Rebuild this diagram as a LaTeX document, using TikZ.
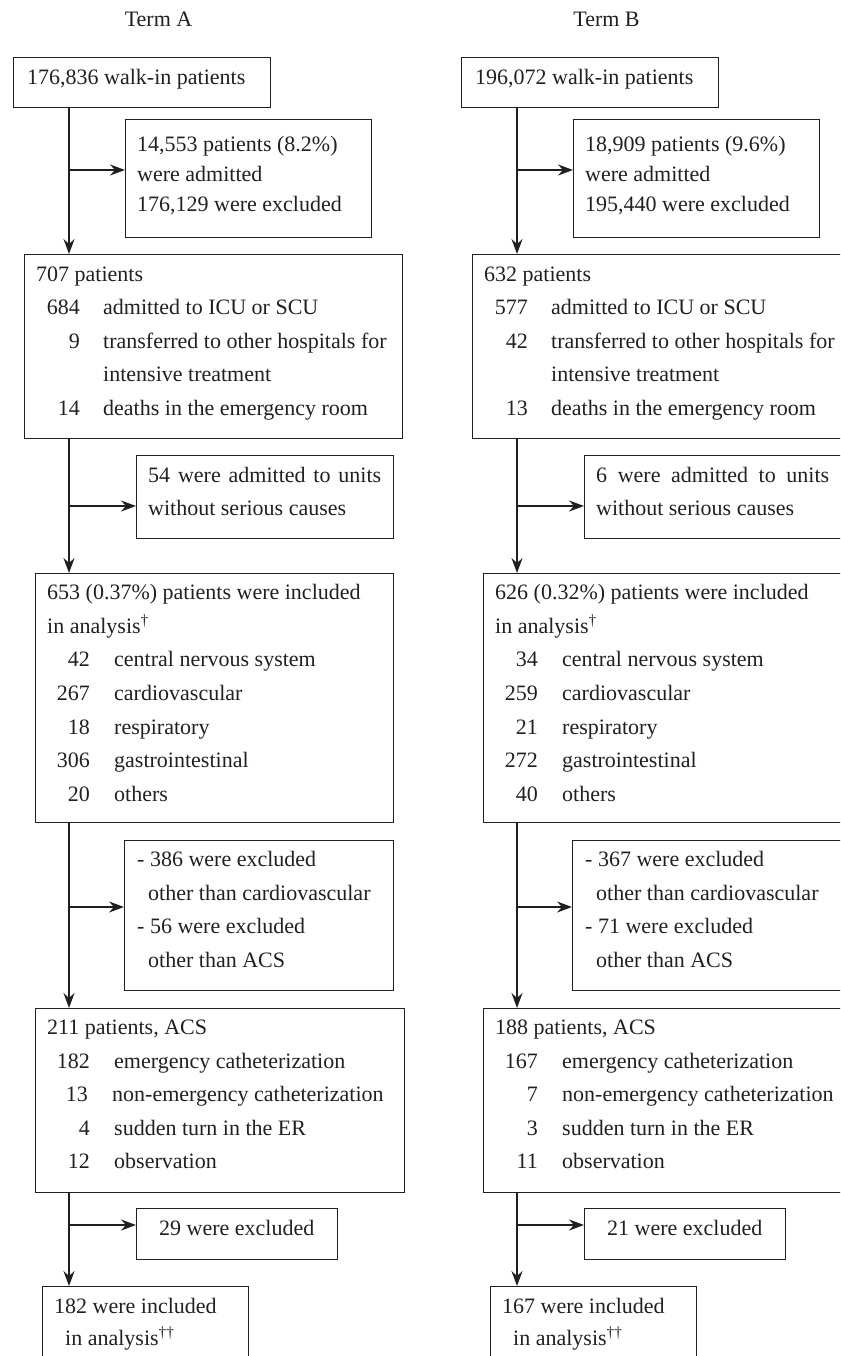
\documentclass[tikz,border=0pt]{standalone}
\usepackage{fontspec}
\setmainfont{Liberation Serif}
\usetikzlibrary{arrows.meta}
\definecolor{ink}{HTML}{231F20}
\begin{document}
\begin{tikzpicture}[x=1pt,y=-1pt,
  box/.style={draw=ink, line width=1.4pt, rectangle, inner sep=0pt, anchor=north west},
  txt/.style={inner sep=0pt, text=ink, font=\fontsize{22}{26}\selectfont},
  lt/.style={txt, anchor=base west},
  rt/.style={txt, anchor=base east},
  ct/.style={txt, anchor=base},
  arr/.style={draw=ink, line width=1.5pt, -{Stealth[length=15pt,width=11pt,inset=5pt]}}]
\useasboundingbox (0,0) rectangle (840,1356);
\clip (0,0) rectangle (840,1356);

% ---------------- Term A ----------------
\node[ct] (hA) at (158.5,27) {Term A};
\node[box, minimum width=257pt, minimum height=50pt]  (A1) at (13,57) {};
\node[box, minimum width=246pt, minimum height=118pt] (A2) at (125,119) {};
\node[box, minimum width=378pt, minimum height=184pt] (A3) at (24,254) {};
\node[box, minimum width=257pt, minimum height=83pt]  (A4) at (136,455) {};
\node[box, minimum width=358pt, minimum height=249pt] (A5) at (35,573) {};
\node[box, minimum width=269pt, minimum height=150pt] (A6) at (124,840) {};
\node[box, minimum width=369pt, minimum height=184pt] (A7) at (35,1008) {};
\node[box, minimum width=201pt, minimum height=51pt]  (A8) at (136,1208) {};
\node[box, minimum width=206pt, minimum height=120pt] (A9) at (42,1286) {};

\node[lt] (A1a) at (27,85) {176,836 walk-in patients};
\node[lt] (A2a) at (137,152) {14,553 patients (8.2\%)};
\node[lt] (A2b) at (137,182) {were admitted};
\node[lt] (A2c) at (137,212) {176,129 were excluded};
\node[lt] (A3a) at (36,281) {707 patients};
\node[rt] (A3n1) at (80,314) {684};
\node[lt] (A3t1) at (103,314) {admitted to ICU or SCU};
\node[rt] (A3n2) at (80,348) {9};
\node[lt] (A3t2) at (103,348) {transferred to other hospitals for};
\node[lt] (A3t3) at (103,381) {intensive treatment};
\node[rt] (A3n4) at (80,415) {14};
\node[lt] (A3t4) at (103,415) {deaths in the emergency room};
\node[lt] (A4a) at (148,482) {\makebox[233pt][s]{54 were admitted to units}};
\node[lt] (A4b) at (148,515) {without serious causes};
\node[lt] (A5a) at (47,599) {653 (0.37\%) patients were included};
\node[lt] (A5b) at (47,633) {in analysis\textsuperscript{\textdagger}};
\node[rt] (A5n1) at (90,666) {42};
\node[lt] (A5t1) at (114,666) {central nervous system};
\node[rt] (A5n2) at (90,700) {267};
\node[lt] (A5t2) at (114,700) {cardiovascular};
\node[rt] (A5n3) at (90,734) {18};
\node[lt] (A5t3) at (114,734) {respiratory};
\node[rt] (A5n4) at (90,767) {306};
\node[lt] (A5t4) at (114,767) {gastrointestinal};
\node[rt] (A5n5) at (90,801) {20};
\node[lt] (A5t5) at (114,801) {others};
\node[lt] (A6a) at (137,866) {- 386 were excluded};
\node[lt] (A6b) at (148,900) {other than cardiovascular};
\node[lt] (A6c) at (137,933) {- 56 were excluded};
\node[lt] (A6d) at (148,967) {other than ACS};
\node[lt] (A7a) at (47,1034) {211 patients, ACS};
\node[rt] (A7n1) at (90,1068) {182};
\node[lt] (A7t1) at (114,1068) {emergency catheterization};
\node[rt] (A7n2) at (88,1101) {13};
\node[lt] (A7t2) at (112,1101) {non-emergency catheterization};
\node[rt] (A7n3) at (90,1135) {4};
\node[lt] (A7t3) at (114,1135) {sudden turn in the ER};
\node[rt] (A7n4) at (90,1168) {12};
\node[lt] (A7t4) at (114,1168) {observation};
\node[lt] (A8a) at (159,1235) {29 were excluded};
\node[lt] (A9a) at (54,1313) {182 were included};
\node[lt] (A9b) at (65,1345) {in analysis\textsuperscript{\textdagger\textdagger}};

\coordinate (cA) at (69,0);
\coordinate (jA1) at (69,170);
\coordinate (jA2) at (69,506);
\coordinate (jA3) at (69,907);
\coordinate (jA4) at (69,1225);
\draw[arr] (A1.south -| cA) -- (A3.north -| cA);
\draw[arr] (A3.south -| cA) -- (A5.north -| cA);
\draw[arr] (A5.south -| cA) -- (A7.north -| cA);
\draw[arr] (A7.south -| cA) -- (A9.north -| cA);
\draw[arr] (jA1) -- (jA1 -| A2.west);
\draw[arr] (jA2) -- (jA2 -| A4.west);
\draw[arr] (jA3) -- (jA3 -| A6.west);
\draw[arr] (jA4) -- (jA4 -| A8.west);

% ---------------- Term B ----------------
\begin{scope}[xshift=448pt]
\node[ct] (hB) at (158.5,27) {Term B};
\node[box, minimum width=257pt, minimum height=50pt]  (B1) at (13,57) {};
\node[box, minimum width=246pt, minimum height=118pt] (B2) at (125,119) {};
\node[box, minimum width=378pt, minimum height=184pt] (B3) at (24,254) {};
\node[box, minimum width=257pt, minimum height=83pt]  (B4) at (136,455) {};
\node[box, minimum width=358pt, minimum height=249pt] (B5) at (35,573) {};
\node[box, minimum width=269pt, minimum height=150pt] (B6) at (124,840) {};
\node[box, minimum width=369pt, minimum height=184pt] (B7) at (35,1008) {};
\node[box, minimum width=201pt, minimum height=51pt]  (B8) at (136,1208) {};
\node[box, minimum width=206pt, minimum height=120pt] (B9) at (42,1286) {};

\node[lt] (B1a) at (27,85) {196,072 walk-in patients};
\node[lt] (B2a) at (137,152) {18,909 patients (9.6\%)};
\node[lt] (B2b) at (137,182) {were admitted};
\node[lt] (B2c) at (137,212) {195,440 were excluded};
\node[lt] (B3a) at (36,281) {632 patients};
\node[rt] (B3n1) at (80,314) {577};
\node[lt] (B3t1) at (103,314) {admitted to ICU or SCU};
\node[rt] (B3n2) at (80,348) {42};
\node[lt] (B3t2) at (103,348) {transferred to other hospitals for};
\node[lt] (B3t3) at (103,381) {intensive treatment};
\node[rt] (B3n4) at (80,415) {13};
\node[lt] (B3t4) at (103,415) {deaths in the emergency room};
\node[lt] (B4a) at (148,482) {\makebox[233pt][s]{6 were admitted to units}};
\node[lt] (B4b) at (148,515) {without serious causes};
\node[lt] (B5a) at (47,599) {626 (0.32\%) patients were included};
\node[lt] (B5b) at (47,633) {in analysis\textsuperscript{\textdagger}};
\node[rt] (B5n1) at (90,666) {34};
\node[lt] (B5t1) at (114,666) {central nervous system};
\node[rt] (B5n2) at (90,700) {259};
\node[lt] (B5t2) at (114,700) {cardiovascular};
\node[rt] (B5n3) at (90,734) {21};
\node[lt] (B5t3) at (114,734) {respiratory};
\node[rt] (B5n4) at (90,767) {272};
\node[lt] (B5t4) at (114,767) {gastrointestinal};
\node[rt] (B5n5) at (90,801) {40};
\node[lt] (B5t5) at (114,801) {others};
\node[lt] (B6a) at (137,866) {- 367 were excluded};
\node[lt] (B6b) at (148,900) {other than cardiovascular};
\node[lt] (B6c) at (137,933) {- 71 were excluded};
\node[lt] (B6d) at (148,967) {other than ACS};
\node[lt] (B7a) at (47,1034) {188 patients, ACS};
\node[rt] (B7n1) at (90,1068) {167};
\node[lt] (B7t1) at (114,1068) {emergency catheterization};
\node[rt] (B7n2) at (90,1101) {7};
\node[lt] (B7t2) at (114,1101) {non-emergency catheterization};
\node[rt] (B7n3) at (90,1135) {3};
\node[lt] (B7t3) at (114,1135) {sudden turn in the ER};
\node[rt] (B7n4) at (90,1168) {11};
\node[lt] (B7t4) at (114,1168) {observation};
\node[lt] (B8a) at (159,1235) {21 were excluded};
\node[lt] (B9a) at (54,1313) {167 were included};
\node[lt] (B9b) at (65,1345) {in analysis\textsuperscript{\textdagger\textdagger}};

\coordinate (cB) at (69,0);
\coordinate (jB1) at (69,170);
\coordinate (jB2) at (69,506);
\coordinate (jB3) at (69,907);
\coordinate (jB4) at (69,1225);
\draw[arr] (B1.south -| cB) -- (B3.north -| cB);
\draw[arr] (B3.south -| cB) -- (B5.north -| cB);
\draw[arr] (B5.south -| cB) -- (B7.north -| cB);
\draw[arr] (B7.south -| cB) -- (B9.north -| cB);
\draw[arr] (jB1) -- (jB1 -| B2.west);
\draw[arr] (jB2) -- (jB2 -| B4.west);
\draw[arr] (jB3) -- (jB3 -| B6.west);
\draw[arr] (jB4) -- (jB4 -| B8.west);
\end{scope}
\end{tikzpicture}
\end{document}
